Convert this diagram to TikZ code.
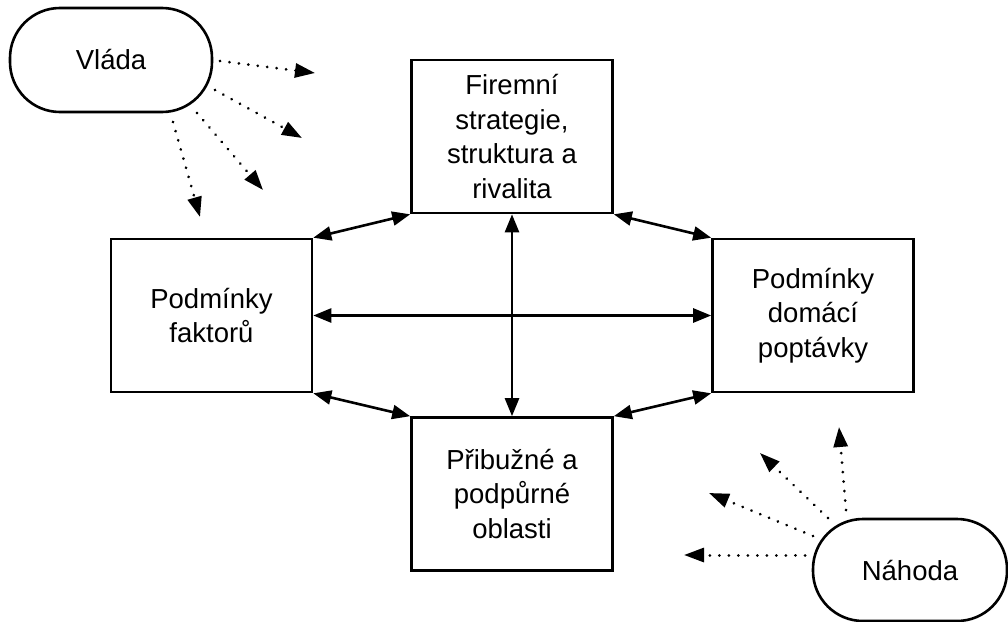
\documentclass[tikz,border=0pt]{standalone}
\usepackage{fontspec}
\setmainfont{Liberation Sans}
\usetikzlibrary{arrows.meta}
\begin{document}
\begin{tikzpicture}[x=1pt,y=-1pt,
  box/.style={draw,line width=2.6pt,minimum width=201pt,minimum height=153pt,align=center,inner sep=0pt,
    font=\fontsize{27.5}{34.5}\selectfont},
  actor/.style={draw,line width=2.6pt,rounded corners=50pt,align=center,inner sep=0pt,
    font=\fontsize{27.5}{34}\selectfont},
  link/.style={line width=2.6pt,{Triangle[length=18pt,width=14pt]}-{Triangle[length=18pt,width=14pt]}},
  influence/.style={line width=3pt,line cap=round,dash pattern=on 0.01pt off 9.5pt,
    -{Triangle[length=20pt,width=14pt]}}]
\useasboundingbox (0,0) rectangle (1008,621);
\node[box] (top) at (512,136.5) {Firemní\\strategie,\\struktura a\\rivalita};
\node[box] (left) at (211.5,315.5) {Podmínky\\faktorů};
\node[box] (right) at (813,315.5) {Podmínky\\domácí\\poptávky};
\node[box] (bottom) at (512,494) {Přibužné a\\podpůrné\\oblasti};
\node[actor,minimum width=202pt,minimum height=104pt] (vlada) at (111,60) {Vláda};
\node[actor,minimum width=194pt,minimum height=102pt] (nahoda) at (910,570) {Náhoda};

\draw[link] (top.south west) -- (left.north east);
\draw[link] (top.south east) -- (right.north west);
\draw[link] (bottom.north west) -- (left.south east);
\draw[link] (bottom.north east) -- (right.south west);
\draw[link] (left.east) -- (right.west);
\draw[link] (top.south) -- (bottom.north);

\coordinate (v1s) at (220,61);  \coordinate (v1e) at (315,73);
\coordinate (v2s) at (215,90);  \coordinate (v2e) at (302,138);
\coordinate (v3s) at (197,113); \coordinate (v3e) at (263,190);
\coordinate (v4s) at (173,122); \coordinate (v4e) at (200,217);
\draw[influence] (v1s) -- (v1e);
\draw[influence] (v2s) -- (v2e);
\draw[influence] (v3s) -- (v3e);
\draw[influence] (v4s) -- (v4e);

\coordinate (n1s) at (805,555); \coordinate (n1e) at (684,555);
\coordinate (n2s) at (813,536); \coordinate (n2e) at (709,493);
\coordinate (n3s) at (828,518); \coordinate (n3e) at (760,453);
\coordinate (n4s) at (846,510); \coordinate (n4e) at (839,427);
\draw[influence] (n1s) -- (n1e);
\draw[influence] (n2s) -- (n2e);
\draw[influence] (n3s) -- (n3e);
\draw[influence] (n4s) -- (n4e);
\end{tikzpicture}
\end{document}
